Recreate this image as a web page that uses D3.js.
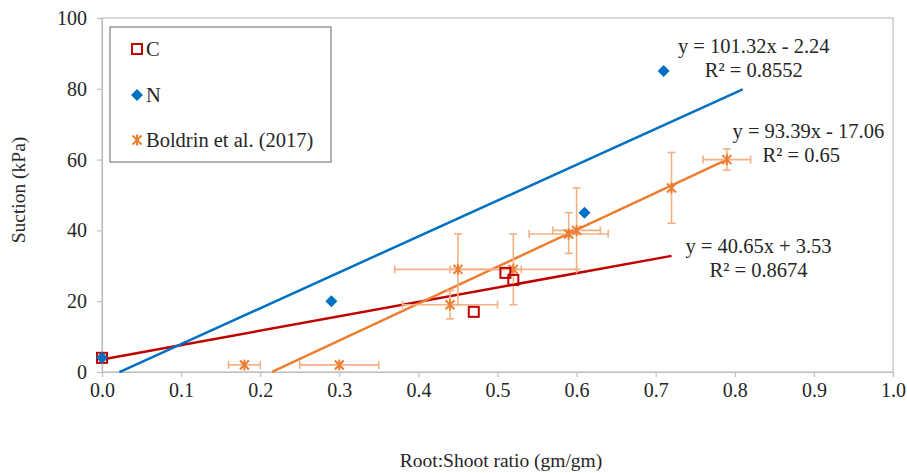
<!DOCTYPE html>
<html>
<head>
<meta charset="utf-8">
<script src="https://cdn.jsdelivr.net/npm/d3@7"></script>
<style>
	body { margin: 0; background: #fff; }
	text { font-family: "Liberation Serif", "DejaVu Serif", serif; fill: #262626; }
</style>
</head>
<body>
<script>
// C series (open squares)
const cX = [0, 0.47, 0.51, 0.52]
const cY = [4, 17, 28, 26]
// N series (diamonds)
const nX = [0, 0.29, 0.61, 0.71]
const nY = [4, 20, 45, 85]
// Boldrin et al. (2017) with error bars
const bX = [0.18, 0.30, 0.44, 0.45, 0.52, 0.59, 0.60, 0.72, 0.79]
const bY = [2, 2, 19, 29, 29, 39, 40, 52, 60]
const bXLo = [0.16, 0.25, 0.38, 0.37, 0.44, 0.54, 0.57, 0.72, 0.76]
const bXHi = [0.20, 0.35, 0.50, 0.53, 0.60, 0.64, 0.63, 0.72, 0.82]
const bYLo = [2, 2, 15, 19, 19, 33.5, 29, 42, 57]
const bYHi = [2, 2, 23, 39, 39, 45, 52, 62, 63]

// trendlines
const fitSeries = ['C', 'N', 'Boldrin et al. (2017)']
const fitSlope = [40.65, 101.32, 104.3]
const fitIntercept = [3.53, -2.24, -22.4]
const fitFrom = [0, 0.022, 0.215]
const fitTo = [0.72, 0.81, 0.79]
const fitEq = ['y = 40.65x + 3.53', 'y = 101.32x - 2.24', 'y = 93.39x - 17.06']
const fitR2 = ['R² = 0.8674', 'R² = 0.8552', 'R² = 0.65']

const xTicks = [0, 0.1, 0.2, 0.3, 0.4, 0.5, 0.6, 0.7, 0.8, 0.9, 1.0]
const yTicks = [0, 20, 40, 60, 80, 100]

const colors = ['#C00000', '#0070C0', '#ED7D31']
const errColor = '#F4B183'
const serif = '"Liberation Serif", "DejaVu Serif", serif'

const margin = {top: 18, right: 14, bottom: 101, left: 102}
const width = 907 - margin.left - margin.right
const height = 473 - margin.top - margin.bottom

const root = d3.select('body').append('svg')
	.attr('width', 907)
	.attr('height', 473)

const svg = root.append('g')
	.attr('transform', `translate(${margin.left},${margin.top})`)

const x = d3.scaleLinear().domain([0, 1]).range([0, width])
const y = d3.scaleLinear().domain([0, 100]).range([height, 0])

// plot frame
svg.append('rect')
	.attr('width', width)
	.attr('height', height)
	.attr('fill', 'none')
	.attr('stroke', '#bfbfbf')
	.attr('stroke-width', 1.2)

const xAxis = d3.axisBottom(x).tickValues(xTicks).tickFormat(d3.format('.1f')).tickSize(5).tickPadding(6)
const yAxis = d3.axisLeft(y).tickValues(yTicks).tickSize(5).tickPadding(10)

svg.append('g')
	.attr('class', 'x-axis')
	.attr('transform', `translate(0,${height})`)
	.call(xAxis)
svg.append('g')
	.attr('class', 'y-axis')
	.call(yAxis)

svg.selectAll('.x-axis, .y-axis')
	.attr('font-family', serif)
	.attr('font-size', 20)
svg.selectAll('.x-axis, .y-axis').selectAll('path, line').attr('stroke', '#bfbfbf').attr('stroke-width', 1.2)
svg.selectAll('.x-axis text, .y-axis text').attr('fill', '#262626')

// axis titles
root.append('text')
	.attr('x', 501)
	.attr('y', 467)
	.attr('text-anchor', 'middle')
	.attr('font-size', 19.5)
	.text('Root:Shoot ratio (gm/gm)')

root.append('text')
	.attr('transform', 'translate(25,190) rotate(-90)')
	.attr('text-anchor', 'middle')
	.attr('font-size', 19.5)
	.text('Suction (kPa)')

// trendlines
const fits = fitSeries.map((s, i) => ({i, x0: fitFrom[i], x1: fitTo[i]}))
svg.selectAll('.fit').data(fits).enter()
	.append('line')
	.attr('class', 'fit')
	.attr('x1', d => x(d.x0))
	.attr('y1', d => y(fitSlope[d.i] * d.x0 + fitIntercept[d.i]))
	.attr('x2', d => x(d.x1))
	.attr('y2', d => y(fitSlope[d.i] * d.x1 + fitIntercept[d.i]))
	.attr('stroke', d => colors[d.i])
	.attr('stroke-width', 2.5)

// error bars
const bData = bX.map((v, i) => ({x: v, y: bY[i], xl: bXLo[i], xh: bXHi[i], yl: bYLo[i], yh: bYHi[i]}))
const cap = 4
const err = svg.append('g').attr('stroke', errColor).attr('stroke-width', 1.6).attr('fill', 'none')
bData.forEach(d => {
	if (d.xh > d.xl) {
		err.append('line').attr('x1', x(d.xl)).attr('x2', x(d.xh)).attr('y1', y(d.y)).attr('y2', y(d.y))
		err.append('line').attr('x1', x(d.xl)).attr('x2', x(d.xl)).attr('y1', y(d.y) - cap).attr('y2', y(d.y) + cap)
		err.append('line').attr('x1', x(d.xh)).attr('x2', x(d.xh)).attr('y1', y(d.y) - cap).attr('y2', y(d.y) + cap)
	}
	if (d.yh > d.yl) {
		err.append('line').attr('x1', x(d.x)).attr('x2', x(d.x)).attr('y1', y(d.yl)).attr('y2', y(d.yh))
		err.append('line').attr('x1', x(d.x) - cap).attr('x2', x(d.x) + cap).attr('y1', y(d.yl)).attr('y2', y(d.yl))
		err.append('line').attr('x1', x(d.x) - cap).attr('x2', x(d.x) + cap).attr('y1', y(d.yh)).attr('y2', y(d.yh))
	}
})

// markers
const star = 'M-4.5,-4.5L4.5,4.5M-4.5,4.5L4.5,-4.5M0,-5.5L0,5.5'
const drawStar = (g, px, py) => g.append('path')
	.attr('d', star)
	.attr('transform', `translate(${px},${py})`)
	.attr('stroke', colors[2])
	.attr('stroke-width', 2)
	.attr('fill', 'none')

const drawSquare = (g, px, py) => g.append('rect')
	.attr('x', px - 5).attr('y', py - 5)
	.attr('width', 10).attr('height', 10)
	.attr('fill', 'none')
	.attr('stroke', colors[0])
	.attr('stroke-width', 2)

const drawDiamond = (g, px, py) => g.append('path')
	.attr('d', 'M0,-6L6,0L0,6L-6,0Z')
	.attr('transform', `translate(${px},${py})`)
	.attr('fill', colors[1])

bData.forEach(d => drawStar(svg, x(d.x), y(d.y)))
cX.forEach((v, i) => drawSquare(svg, x(v), y(cY[i])))
nX.forEach((v, i) => drawDiamond(svg, x(v), y(nY[i])))

// equation labels
const eqPos = [
	{cx: 0.83, ey: 253, ry: 277},
	{cx: 0.824, ey: 53, ry: 77},
	{cx: 0.893, ey: 138, ry: 162}
]
eqPos.forEach((p, i) => {
	root.append('text')
		.attr('x', margin.left + x(p.cx))
		.attr('y', p.ey)
		.attr('text-anchor', 'middle')
		.attr('font-size', 20.5)
		.text(fitEq[i])
	root.append('text')
		.attr('x', margin.left + x(p.cx) - (i == 2 ? 7 : 0))
		.attr('y', p.ry)
		.attr('text-anchor', 'middle')
		.attr('font-size', 20.5)
		.text(fitR2[i])
})

// legend
const legend = root.append('g')
legend.append('rect')
	.attr('x', 110).attr('y', 27)
	.attr('width', 221).attr('height', 135)
	.attr('fill', '#fff')
	.attr('stroke', '#7f7f7f')
	.attr('stroke-width', 1.2)

const legY = [49, 95, 140]
drawSquare(legend, 137, legY[0])
drawDiamond(legend, 137, legY[1])
drawStar(legend, 137, legY[2])
fitSeries.forEach((s, i) => {
	legend.append('text')
		.attr('x', 146)
		.attr('y', legY[i] + 7)
		.attr('font-size', 20.5)
		.text(s)
})
</script>
</body>
</html>
